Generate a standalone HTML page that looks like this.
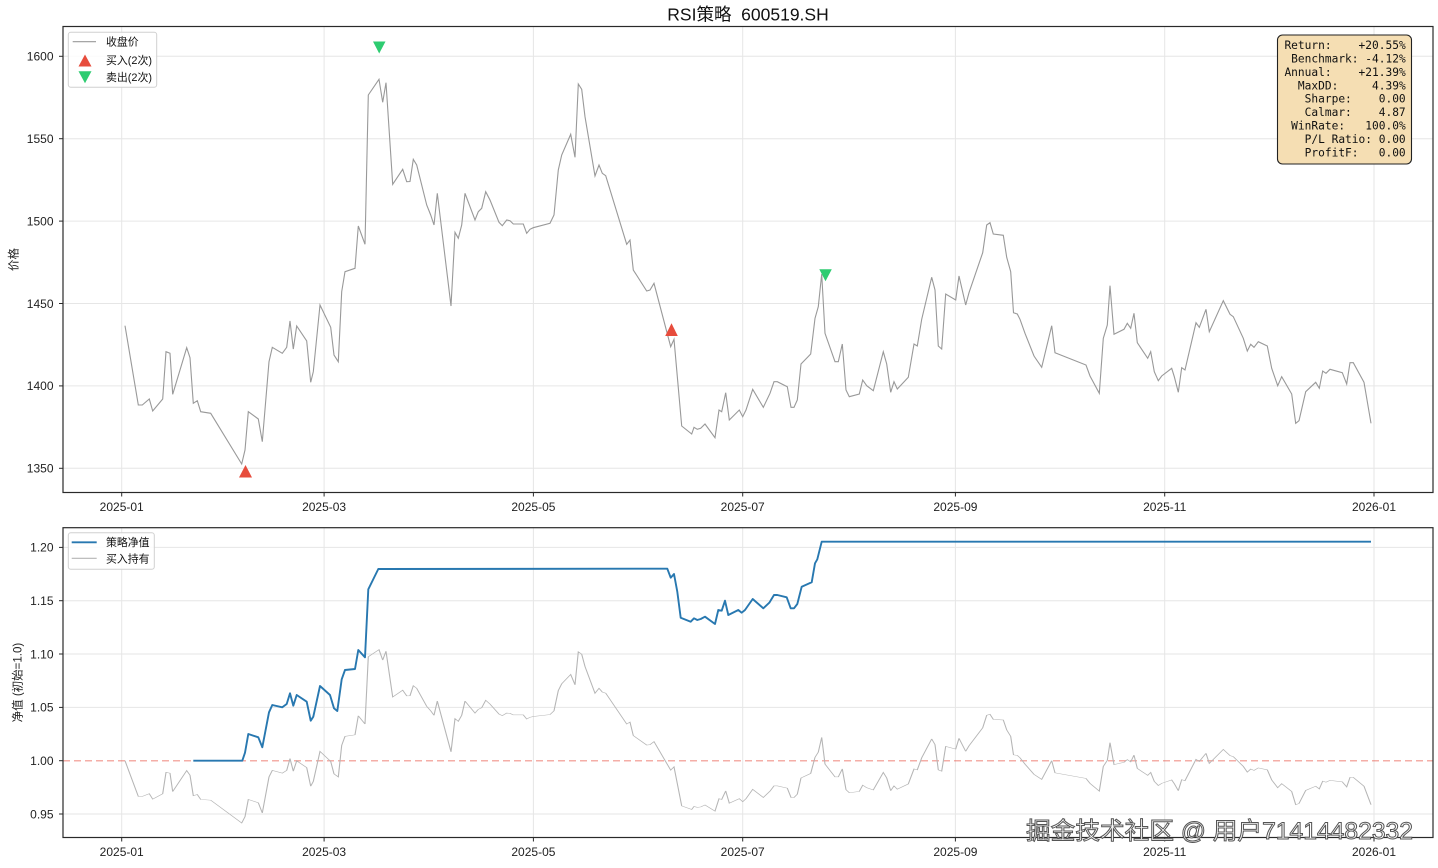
<!DOCTYPE html>
<html>
<head>
<meta charset="utf-8">
<style>
html,body{margin:0;padding:0;background:#fff;}
svg{display:block;}
text{font-family:"Liberation Sans","Noto Sans CJK SC",sans-serif;}
.tk{font-size:12px;fill:#222;}
svg text.mono{font-family:"DejaVu Sans Mono","Liberation Mono",monospace;font-size:11.2px;fill:#111;white-space:pre;}
</style>
</head>
<body>
<svg width="1438" height="868" viewBox="0 0 1438 868" xmlns="http://www.w3.org/2000/svg" xmlns:xlink="http://www.w3.org/1999/xlink">
<defs>
<polyline id="price" fill="none" points="125,325.7 138.3,405 142.3,405 149.3,399 152.7,411 162.7,399 166,351.7 170,353.3 172.7,394.3 186.7,347.7 190,357.7 193.3,403.3 197.3,400.7 200.7,411.7 210.7,413.3 241.7,464 245,450 248.3,411.7 258.3,419 262.3,441.7 269,361.7 272.3,347.3 282.3,353.3 286.7,347.3 290,321 293.3,349 296.7,326 306.7,341 310.7,382.3 313.3,371.7 320,305 330.7,327.3 334,355 338.3,361.7 341.7,291.7 345,271.7 355,268.3 358.3,226 365,244.3 368.3,95 379,79.3 382.7,102.3 386,82.7 392.7,184.3 402.7,169.3 406.7,181.7 410,181.5 413.3,159.3 416.7,165 426.7,205 430.7,215 434,225 437.3,193.3 451,306 455,232.3 458.3,238.3 461.7,225 465,193.3 475,220 478.3,211.7 481.7,208.3 485.7,191.7 490,200 499,222.3 502.3,225.7 506.7,220 510,220.7 513.3,224 523.3,224 526.7,233.3 530,229.3 533.3,227.7 550,223.3 554,215 558.3,170 561.7,155 570.7,134.3 575,157.3 578.3,84 581.7,89.3 585,116.7 595,176 599,165 602.3,173.3 605.7,175.7 626.7,244.3 630,240 633.3,270 646.7,291 650,290 654,283.3 670.7,346.7 674,339.3 681.7,426 691.7,434 694,427.3 697.3,429.3 700.7,428.3 705,424 715,437.7 719,410 721.7,411.7 725.7,392.7 729.3,420 739.3,410 742.7,416.7 746,410 752.7,389.3 763.3,407.3 770,393.3 774,381.7 777.3,381.7 787.3,386.7 791,407.3 794,407.3 797.3,400 801,364 810.7,354 815,318.3 818.3,306.7 821.7,274 825,333.3 835,361.7 838.3,361.7 842.3,344 846,390 849.3,396.7 859.3,394 862.7,380 866.7,385.7 873.3,390.7 883.3,351.7 886.7,364 890.7,392.3 894,381.7 897.3,389 908.3,377.3 914,344 917.3,346 921.7,319.3 931.7,277.3 935,290 938.3,346 941.7,349 945.7,294 955.7,300 959,276 965.7,305 969,292.7 982.7,252.7 986.7,225 990,222.7 993.3,234 1003.3,235.3 1006.7,257.3 1010.7,271.7 1013.5,312.7 1017.3,314 1020,319.3 1025,333.3 1034,356 1041.7,367.3 1051.7,325.7 1055,352.7 1086,365 1090,376 1099.3,393.3 1103.3,338.3 1107.3,325 1110,285.7 1114,334.3 1124,329.3 1127.3,323.3 1130.7,328.3 1134,313.3 1137.3,342.7 1147.7,358.3 1150.7,351.7 1154.3,371.7 1158.3,380.7 1161.7,376 1171.7,368.3 1174.3,376.7 1178.3,392.3 1181.7,367.7 1185,370 1196,322.7 1199.3,327.3 1206,309.3 1209.3,331.7 1223.3,300.7 1230,314.3 1233.3,316.7 1243.3,338.3 1247.3,351 1250.7,344.3 1254,347.3 1258.3,341.7 1267.3,346 1271.7,368.3 1277.7,385.7 1281.7,376.7 1291.7,394 1295.7,423.3 1299,420.7 1305.7,391.7 1315.7,382.3 1319.3,388.3 1322.7,371 1326,373.3 1330,369.3 1342.3,372.7 1346.7,384 1350,362.7 1353.3,362.7 1364,382.3 1371,423.3"/>
</defs>

<!-- Title -->
<text x="748" y="20.5" text-anchor="middle" font-size="17.5" fill="#111" xml:space="preserve">RSI策略  600519.SH</text>

<!-- ============ TOP AXES ============ -->
<rect x="63" y="26.5" width="1370" height="466" fill="#fff"/>
<g stroke="#e6e6e6" stroke-width="1">
  <line x1="121.7" y1="26.5" x2="121.7" y2="492.5"/>
  <line x1="324.1" y1="26.5" x2="324.1" y2="492.5"/>
  <line x1="533.4" y1="26.5" x2="533.4" y2="492.5"/>
  <line x1="742.7" y1="26.5" x2="742.7" y2="492.5"/>
  <line x1="955.4" y1="26.5" x2="955.4" y2="492.5"/>
  <line x1="1164.7" y1="26.5" x2="1164.7" y2="492.5"/>
  <line x1="1374" y1="26.5" x2="1374" y2="492.5"/>
  <line x1="63" y1="56.3" x2="1433" y2="56.3"/>
  <line x1="63" y1="138.7" x2="1433" y2="138.7"/>
  <line x1="63" y1="221.1" x2="1433" y2="221.1"/>
  <line x1="63" y1="303.5" x2="1433" y2="303.5"/>
  <line x1="63" y1="385.9" x2="1433" y2="385.9"/>
  <line x1="63" y1="468.3" x2="1433" y2="468.3"/>
</g>

<use xlink:href="#price" href="#price" stroke="#999" stroke-width="1.1"/>

<!-- markers -->
<polygon points="239,477.5 252,477.5 245.5,465" fill="#e74c3c"/>
<polygon points="665.2,336 677.8,336 671.5,323.3" fill="#e74c3c"/>
<polygon points="373,41.5 385.5,41.5 379.2,53.5" fill="#2ecc71"/>
<polygon points="819.3,269.3 831.8,269.3 825.5,281.3" fill="#2ecc71"/>

<rect x="63" y="26.5" width="1370" height="466" fill="none" stroke="#2a2a2a" stroke-width="1.2"/>

<!-- top y ticks -->
<g stroke="#2a2a2a" stroke-width="1">
  <line x1="59" y1="56.3" x2="63" y2="56.3"/>
  <line x1="59" y1="138.7" x2="63" y2="138.7"/>
  <line x1="59" y1="221.1" x2="63" y2="221.1"/>
  <line x1="59" y1="303.5" x2="63" y2="303.5"/>
  <line x1="59" y1="385.9" x2="63" y2="385.9"/>
  <line x1="59" y1="468.3" x2="63" y2="468.3"/>
  <line x1="121.7" y1="492.5" x2="121.7" y2="496.5"/>
  <line x1="324.1" y1="492.5" x2="324.1" y2="496.5"/>
  <line x1="533.4" y1="492.5" x2="533.4" y2="496.5"/>
  <line x1="742.7" y1="492.5" x2="742.7" y2="496.5"/>
  <line x1="955.4" y1="492.5" x2="955.4" y2="496.5"/>
  <line x1="1164.7" y1="492.5" x2="1164.7" y2="496.5"/>
  <line x1="1374" y1="492.5" x2="1374" y2="496.5"/>
</g>
<g class="tk" text-anchor="end">
  <text x="53.5" y="60.6">1600</text>
  <text x="53.5" y="143">1550</text>
  <text x="53.5" y="225.4">1500</text>
  <text x="53.5" y="307.8">1450</text>
  <text x="53.5" y="390.2">1400</text>
  <text x="53.5" y="472.6">1350</text>
</g>
<g class="tk" text-anchor="middle">
  <text x="121.7" y="511">2025-01</text>
  <text x="324.1" y="511">2025-03</text>
  <text x="533.4" y="511">2025-05</text>
  <text x="742.7" y="511">2025-07</text>
  <text x="955.4" y="511">2025-09</text>
  <text x="1164.7" y="511">2025-11</text>
  <text x="1374" y="511">2026-01</text>
</g>
<text transform="translate(17.5,259.5) rotate(-90)" text-anchor="middle" font-size="11.5" fill="#222">价格</text>

<!-- top legend -->
<rect x="68.3" y="32.3" width="88.4" height="55" rx="2.5" fill="#fff" fill-opacity="0.85" stroke="#d0d0d0" stroke-width="1"/>
<line x1="72.7" y1="41.7" x2="96" y2="41.7" stroke="#999" stroke-width="1.1"/>
<polygon points="78.5,66.5 91.5,66.5 85,54.5" fill="#e74c3c"/>
<polygon points="78.5,71.3 91.5,71.3 85,83.3" fill="#2ecc71"/>
<g font-size="10.9" fill="#111">
  <text x="106" y="45.5">收盘价</text>
  <text x="106" y="64.2">买入(2次)</text>
  <text x="106" y="81">卖出(2次)</text>
</g>

<!-- stats box -->
<rect x="1277.5" y="35" width="134" height="129" rx="5" fill="#f5deb3" stroke="#222" stroke-width="1.1"/>
<g text-anchor="end">
  <text class="mono" x="1405.7" y="49.1" xml:space="preserve">Return:    +20.55%</text>
  <text class="mono" x="1405.7" y="62.5" xml:space="preserve">Benchmark: -4.12%</text>
  <text class="mono" x="1405.7" y="75.9" xml:space="preserve">Annual:    +21.39%</text>
  <text class="mono" x="1405.7" y="89.3" xml:space="preserve">MaxDD:     4.39%</text>
  <text class="mono" x="1405.7" y="102.7" xml:space="preserve">Sharpe:    0.00</text>
  <text class="mono" x="1405.7" y="116.1" xml:space="preserve">Calmar:    4.87</text>
  <text class="mono" x="1405.7" y="129.5" xml:space="preserve">WinRate:   100.0%</text>
  <text class="mono" x="1405.7" y="142.9" xml:space="preserve">P/L Ratio: 0.00</text>
  <text class="mono" x="1405.7" y="156.3" xml:space="preserve">ProfitF:   0.00</text>
</g>

<!-- ============ BOTTOM AXES ============ -->
<rect x="63" y="527.7" width="1370" height="309.8" fill="#fff"/>
<g stroke="#e6e6e6" stroke-width="1">
  <line x1="121.7" y1="527.7" x2="121.7" y2="837.5"/>
  <line x1="324.1" y1="527.7" x2="324.1" y2="837.5"/>
  <line x1="533.4" y1="527.7" x2="533.4" y2="837.5"/>
  <line x1="742.7" y1="527.7" x2="742.7" y2="837.5"/>
  <line x1="955.4" y1="527.7" x2="955.4" y2="837.5"/>
  <line x1="1164.7" y1="527.7" x2="1164.7" y2="837.5"/>
  <line x1="1374" y1="527.7" x2="1374" y2="837.5"/>
  <line x1="63" y1="547.4" x2="1433" y2="547.4"/>
  <line x1="63" y1="600.7" x2="1433" y2="600.7"/>
  <line x1="63" y1="654" x2="1433" y2="654"/>
  <line x1="63" y1="707.4" x2="1433" y2="707.4"/>
  <line x1="63" y1="814" x2="1433" y2="814"/>
</g>
<line x1="63" y1="760.7" x2="1433" y2="760.7" stroke="#e74c3c" stroke-opacity="0.45" stroke-width="1.5" stroke-dasharray="7,4"/>

<use xlink:href="#price" href="#price" transform="matrix(1 0 0 0.4506 0 613.94)" stroke="#b5b5b5" stroke-width="1.1" vector-effect="non-scaling-stroke"/>

<polyline fill="none" stroke="#2878b0" stroke-width="1.9" stroke-linejoin="round" points="193.3,760.7 242.3,760.7 245,752.7 248.3,734 258.3,737.3 262.3,747.3 269,712.3 272.3,705 282.3,707.3 286.7,704 290,693.3 293.3,705.7 296.7,695 306.7,701.7 310.7,720.7 313.3,716.7 320,686 330,695 334,708.3 337.3,711 341.7,679.3 345,670 355,669 358.3,650 365,657.3 368.3,589.3 378.3,569 667.3,568.7 670.7,577.7 674,574 677.3,591.7 680.7,617.7 690.7,621.7 694,618.3 697.3,620 700.7,619 705,616.7 715,624 718.3,610 721.7,610.7 725,600.7 728.3,615 738.3,610 741.7,612.7 745,610 752.7,599 763.3,608.3 769.3,602.7 774,595 777.3,595 786.7,597.3 790.7,608.3 794,608.3 797.3,604 801.7,586.7 811.7,582.3 815,563.3 817.3,559.3 821.7,541.7 1371,541.7"/>

<rect x="63" y="527.7" width="1370" height="309.8" fill="none" stroke="#2a2a2a" stroke-width="1.2"/>

<g stroke="#2a2a2a" stroke-width="1">
  <line x1="59" y1="547.4" x2="63" y2="547.4"/>
  <line x1="59" y1="600.7" x2="63" y2="600.7"/>
  <line x1="59" y1="654" x2="63" y2="654"/>
  <line x1="59" y1="707.4" x2="63" y2="707.4"/>
  <line x1="59" y1="760.7" x2="63" y2="760.7"/>
  <line x1="59" y1="814" x2="63" y2="814"/>
  <line x1="121.7" y1="837.5" x2="121.7" y2="841.5"/>
  <line x1="324.1" y1="837.5" x2="324.1" y2="841.5"/>
  <line x1="533.4" y1="837.5" x2="533.4" y2="841.5"/>
  <line x1="742.7" y1="837.5" x2="742.7" y2="841.5"/>
  <line x1="955.4" y1="837.5" x2="955.4" y2="841.5"/>
  <line x1="1164.7" y1="837.5" x2="1164.7" y2="841.5"/>
  <line x1="1374" y1="837.5" x2="1374" y2="841.5"/>
</g>
<g class="tk" text-anchor="end">
  <text x="53.5" y="551.7">1.20</text>
  <text x="53.5" y="605">1.15</text>
  <text x="53.5" y="658.3">1.10</text>
  <text x="53.5" y="711.7">1.05</text>
  <text x="53.5" y="765">1.00</text>
  <text x="53.5" y="818.3">0.95</text>
</g>
<g class="tk" text-anchor="middle">
  <text x="121.7" y="856">2025-01</text>
  <text x="324.1" y="856">2025-03</text>
  <text x="533.4" y="856">2025-05</text>
  <text x="742.7" y="856">2025-07</text>
  <text x="955.4" y="856">2025-09</text>
  <text x="1164.7" y="856">2025-11</text>
</g>
<text x="1374" y="856" class="tk" text-anchor="middle">2026-01</text>
<text transform="translate(21.5,682.6) rotate(-90)" text-anchor="middle" font-size="11.5" fill="#222" xml:space="preserve">净值 (初始=1.0)</text>

<!-- bottom legend -->
<rect x="68.3" y="532.7" width="86" height="36.6" rx="2.5" fill="#fff" fill-opacity="0.85" stroke="#d0d0d0" stroke-width="1"/>
<line x1="71.7" y1="542.3" x2="96.7" y2="542.3" stroke="#2878b0" stroke-width="1.9"/>
<line x1="71.7" y1="558.3" x2="96.7" y2="558.3" stroke="#b5b5b5" stroke-width="1.1"/>
<g font-size="10.9" fill="#111">
  <text x="106" y="546.2">策略净值</text>
  <text x="106" y="562.3">买入持有</text>
</g>

<!-- watermark -->
<text x="1026" y="839" font-size="24" fill="#fff" stroke="#555" stroke-width="1" textLength="387" lengthAdjust="spacingAndGlyphs" xml:space="preserve">掘金技术社区 @ 用户71414482332</text>
</svg>
</body>
</html>
